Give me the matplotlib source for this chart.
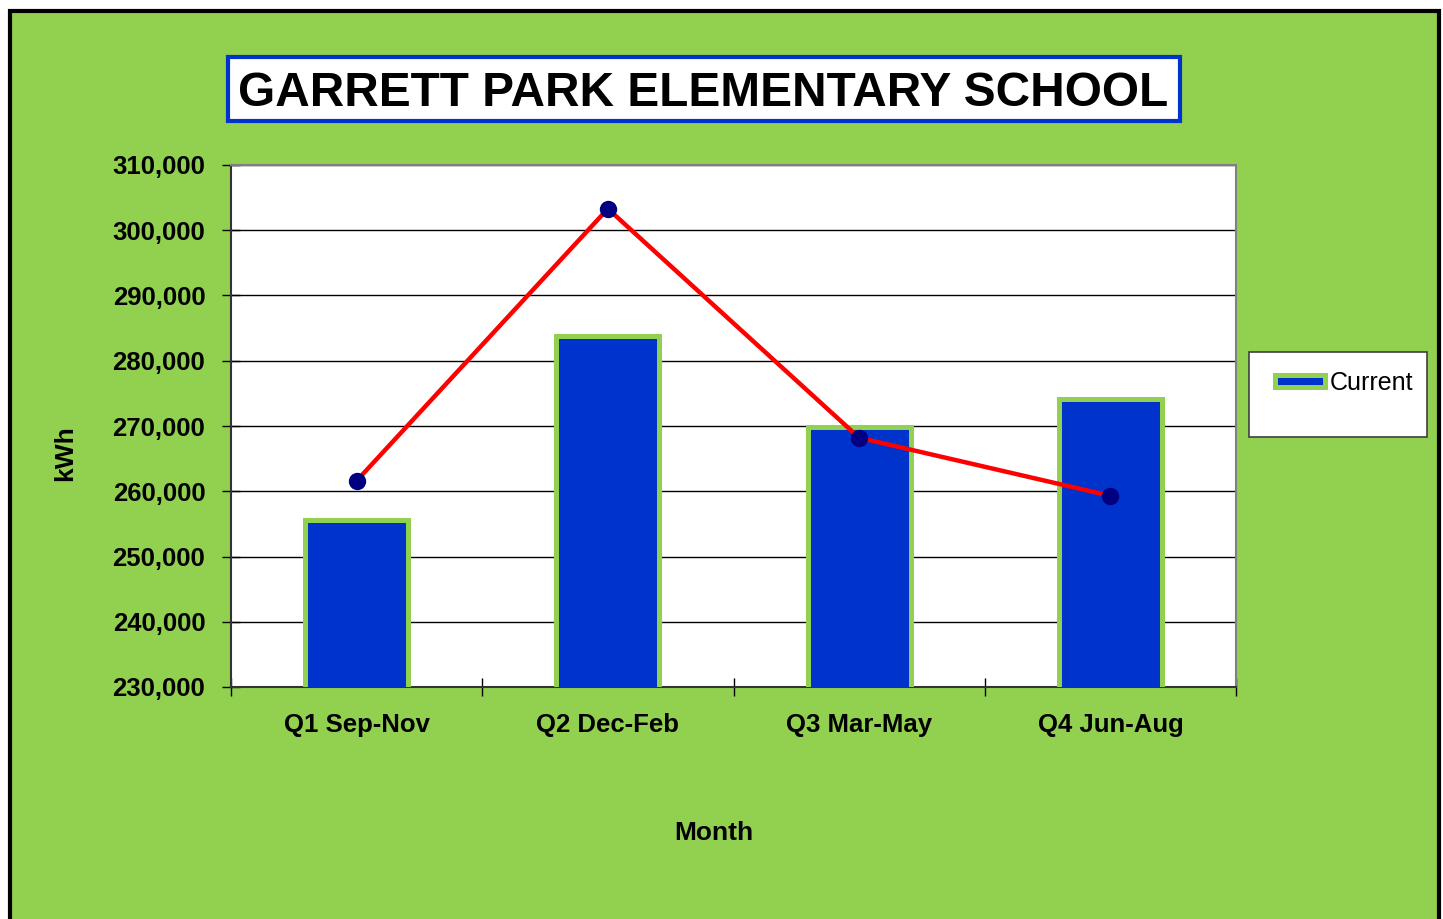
import matplotlib.pyplot as plt
from matplotlib.patches import Rectangle, Patch
import matplotlib.ticker as mticker

# dati
quarters = ["Q1 Sep-Nov", "Q2 Dec-Feb", "Q3 Mar-May", "Q4 Jun-Aug"]
current_kwh = [255600, 283800, 269900, 274200]
previous_kwh = [261600, 303300, 268200, 259300]
yticks = [230000, 240000, 250000, 260000, 270000, 280000, 290000, 300000, 310000]

GREEN = "#92D050"
BLUE = "#0033CC"
ARIAL = ["Liberation Sans", "DejaVu Sans"]

W, H = 1443, 919
fig = plt.figure(figsize=(W / 100, H / 100), dpi=100)
fig.patch.set_facecolor("white")

# sfondo verde con bordo nero
fig.patches.append(Rectangle((10 / W, -0.05), 1429 / W, 1.05 - 11 / H,
                             transform=fig.transFigure, facecolor=GREEN,
                             edgecolor="black", linewidth=3, zorder=-2))

# titolo in riquadro
fig.patches.append(Rectangle((228 / W, 1 - 121 / H), 952 / W, 64 / H,
                             transform=fig.transFigure, facecolor="white",
                             edgecolor=BLUE, linewidth=3, zorder=1))
fig.text(703 / W, 1 - 93 / H, "GARRETT PARK ELEMENTARY SCHOOL", ha="center",
         va="center", fontsize=34.4, fontweight="bold", family=ARIAL, zorder=2)

ax = fig.add_axes([231 / W, 1 - 687 / H, 1005 / W, 522 / H])
ax.set_facecolor("white")
x = list(range(len(quarters)))
ax.bar(x, current_kwh, width=0.41, bottom=0, color=BLUE, edgecolor=GREEN,
       linewidth=3.6, zorder=3)
ax.plot(x, previous_kwh, color="#FF0000", linewidth=3.2, marker="o",
        markersize=11.5, markerfacecolor="#000080", markeredgecolor="#000080",
        zorder=4)

ax.set_xlim(-0.5, 3.5)
ax.set_ylim(230000, 310000)
ax.set_yticks(yticks)
ax.yaxis.set_major_formatter(mticker.FuncFormatter(lambda v, p: f"{int(v):,}"))
ax.set_xticks([-0.5, 0.5, 1.5, 2.5, 3.5])
ax.set_xticklabels([])
ax.set_xticks(x, minor=True)
ax.set_xticklabels(quarters, minor=True)
ax.tick_params(axis="x", which="minor", length=0, pad=19)
ax.tick_params(axis="x", which="major", direction="inout", length=13, width=1)
ax.tick_params(axis="y", direction="inout", length=13, width=1, pad=12)
for lbl in ax.get_yticklabels() + ax.get_xticklabels(minor=True):
    lbl.set_fontfamily(ARIAL)
    lbl.set_fontweight("bold")
    lbl.set_fontsize(18.5)

ax.yaxis.grid(True, color="black", linewidth=1, zorder=1)
ax.set_axisbelow(True)
for side in ["top", "right"]:
    ax.spines[side].set_color("#808080")
    ax.spines[side].set_linewidth(1.5)
for side in ["left", "bottom"]:
    ax.spines[side].set_color("#333333")
    ax.spines[side].set_linewidth(1.5)

fig.text(65 / W, 1 - 453 / H, "kWh", rotation=90, ha="center", va="center",
         fontsize=19, fontweight="bold", family=ARIAL)
fig.text(714 / W, 1 - 833 / H, "Month", ha="center", va="center",
         fontsize=19, fontweight="bold", family=ARIAL)

# legenda con riquadro disegnato a parte
fig.patches.append(Rectangle((1249 / W, 1 - 437 / H), 178 / W, 85 / H,
                             transform=fig.transFigure, facecolor="white",
                             edgecolor="#404040", linewidth=1.2, zorder=1))
handle = Patch(facecolor=BLUE, edgecolor=GREEN, linewidth=3.6, label="Current")
leg = fig.legend(handles=[handle], loc="center left",
                 bbox_to_anchor=(1262 / W, 1 - 383 / H), frameon=False,
                 prop={"family": ARIAL, "size": 18}, handlelength=2.0,
                 handleheight=0.35, handletextpad=0.2, borderpad=0)
leg.set_zorder(5)

fig.savefig("out.png", dpi=100, facecolor=fig.get_facecolor())
